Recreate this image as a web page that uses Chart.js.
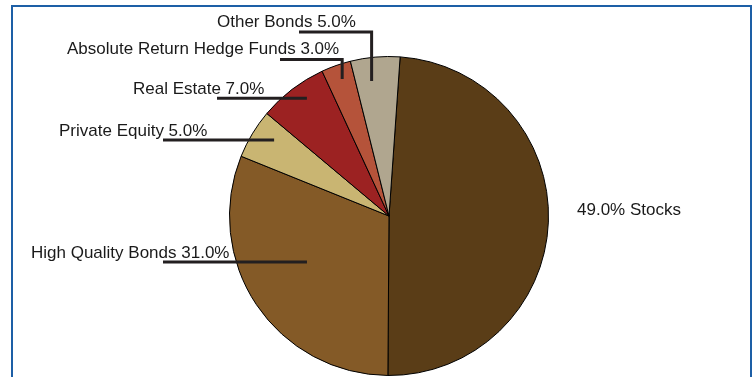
<!DOCTYPE html>
<html>
<head>
<meta charset="utf-8">
<script src="https://cdn.jsdelivr.net/npm/chart.js@4"></script>
<style>
    html, body { margin: 0; padding: 0; background: #fff; }
    #wrap { position: relative; width: 755px; height: 377px; overflow: hidden; }
    #frame {
        position: absolute; left: 11px; top: 5px; width: 737px; height: 400px;
        border: 2px solid #1d5fa6; box-sizing: content-box;
    }
    canvas { position: absolute; left: 0; top: 0; }
</style>
</head>
<body>
<div id="wrap">
    <div id="frame"></div>
    <canvas id="pie" width="755" height="377"></canvas>
</div>
<script>
// Asset allocation pie

const categories = ['Stocks', 'High Quality Bonds', 'Private Equity', 'Real Estate',
    'Absolute Return Hedge Funds', 'Other Bonds'];
const weights = [49.0, 31.0, 5.0, 7.0, 3.0, 5.0];
const sliceColors = ['#5a3d17', '#845a27', '#c9b572', '#9c2222', '#b5533a', '#b0a68f'];

// label placement: text anchor, leader line start, and where it lands in the slice
// t = position across the slice angle, f = fraction of the radius
const labelLayout = [
    { text: (c, v) => v.toFixed(1) + '% ' + c, x: 577, y: 215, line: null },
    { x: 31, y: 258, line: { x0: 163, t: 0.54, f: 0.59 } },
    { x: 59, y: 136, line: { x0: 163, t: 0.64, f: 0.864 } },
    { x: 133, y: 94, line: { x0: 217, t: 0.60, f: 0.90 } },
    { x: 67, y: 54, line: { x0: 280, y: 59.5, t: 0.55, f: 0.908 } },
    { x: 217, y: 27, line: { x0: 299, y: 32, t: 0.37, f: 0.853 } }
];

const leaderLabels = {
    id: 'leaderLabels',
    afterDraw(chart) {
        const ctx = chart.ctx;
        const arcs = chart.getDatasetMeta(0).data;
        ctx.save();
        ctx.font = '17px "Liberation Sans", Arial, sans-serif';
        ctx.fillStyle = '#1a1a1a';
        ctx.textBaseline = 'alphabetic';
        ctx.textAlign = 'left';

        labelLayout.forEach((lay, i) => {
            const label = lay.text ? lay.text(categories[i], weights[i])
                : categories[i] + ' ' + weights[i].toFixed(1) + '%';
            ctx.fillText(label, lay.x, lay.y);
        });

        ctx.strokeStyle = '#231f20';
        ctx.lineWidth = 3;
        ctx.lineCap = 'butt';
        labelLayout.forEach((lay, i) => {
            if (!lay.line) return;
            const arc = arcs[i];
            const a = arc.startAngle + (arc.endAngle - arc.startAngle) * lay.line.t;
            const d = arc.outerRadius * lay.line.f;
            const ex = arc.x + Math.cos(a) * d;
            const ey = arc.y + Math.sin(a) * d;
            ctx.beginPath();
            if (lay.line.y !== undefined) {
                // elbow: across, then down into the slice
                ctx.moveTo(lay.line.x0, lay.line.y);
                ctx.lineTo(ex, lay.line.y);
                ctx.lineTo(ex, ey);
            } else {
                ctx.moveTo(lay.line.x0, ey);
                ctx.lineTo(ex, ey);
            }
            ctx.stroke();
        });
        ctx.restore();
    }
};

new Chart(document.getElementById('pie'), {
    type: 'pie',
    data: {
        labels: categories,
        datasets: [{
            data: weights,
            backgroundColor: sliceColors,
            borderColor: '#000',
            borderWidth: 1
        }]
    },
    options: {
        responsive: false,
        animation: false,
        rotation: 4,
        layout: { padding: { left: 229, right: 206, top: 56, bottom: 1 } },
        plugins: {
            legend: { display: false },
            tooltip: { enabled: false }
        }
    },
    plugins: [leaderLabels]
});
</script>
</body>
</html>
